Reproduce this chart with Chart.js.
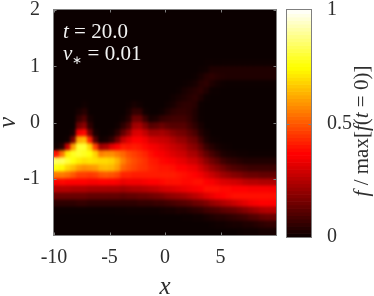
<!DOCTYPE html>
<html>
<head>
<meta charset="utf-8">
<title>f over x and v</title>
<script src="https://cdn.jsdelivr.net/npm/chart.js@4/dist/chart.umd.min.js"></script>
<style>
  body { margin: 0; background: #fff; }
  canvas { position: absolute; left: 0; top: 0; }
</style>
</head>
<body>
<canvas id="field" width="374" height="296"></canvas>
<canvas id="bar" width="374" height="296"></canvas>
<script>
// cell centres of the field, everything above the first row is background
const xCentres = [-9.75,-9.25,-8.75,-8.25,-7.75,-7.25,-6.75,-6.25,-5.75,-5.25,-4.75,-4.25,-3.75,-3.25,-2.75,-2.25,-1.75,-1.25,-0.75,-0.25,
  0.25,0.75,1.25,1.75,2.25,2.75,3.25,3.75,4.25,4.75,5.25,5.75,6.25,6.75,7.25,7.75,8.25,8.75,9.25,9.75];
const vCentres = [1.0625,0.9375,0.8125,0.6875,0.5625,0.4375,0.3125,0.1875,0.0625,-0.0625,-0.1875,-0.3125,-0.4375,
  -0.5625,-0.6875,-0.8125,-0.9375,-1.0625,-1.1875,-1.3125,-1.4375,-1.5625,-1.6875,-1.8125,-1.9375];
// f in percent, one line per x, top to bottom in v
const fByColumn = [
  [0,0,0,0,0,0,0,0,0,0,0,0,1,40,84,76,55,37,25,14,5,0.5,0,0,0],
  [0,0,0,0,0,0,0,0,0,0,0,0,4,54,84,74,55,38,25,14,5,0.5,0,0,0],
  [0,0,0,0,0,0,0,0,0,0,0,1,28,72,80,68,53,37,25,14,5,0.5,0,0,0],
  [0,0,0,0,0,0,0,0,0,0,2,16,60,78,76,65,50,36,24,14,5,0.5,0,0,0],
  [0,0,0,0,0,0,0,2,6,15,34,62,80,80,72,60,46,36,24,14,6,0.5,0,0,0],
  [0,0,0,0,0,0,1,4,10,19,38,64,80,78,70,58,46,36,24,14,6,0.5,0,0,0],
  [0,0,0,0,0,0,0,0,2,5,16,42,68,76,71,59,45,35,23,13,5,0.5,0,0,0],
  [0,0,0,0,0,0,0,0,0,0,2,11,46,68,70,60,46,35,23,13,5,0.5,0,0,0],
  [0,0,0,0,0,0,0,0,0,0,0,1,22,56,69,64,49,36,23,13,5,0.5,0,0,0],
  [0,0,0,0,0,0,0,0,0,0,0,2,24,58,69,65,50,36,23,13,5,0.5,0,0,0],
  [0,0,0,0,0,0,0,0,0,0,1,6,32,58,68,64,49,36,23,13,5,0.5,0,0,0],
  [0,0,0,0,0,0,0,0,0,1,5,15,36,55,63,60,47,35,23,13,5,0.7,0,0,0],
  [0,0,0,0,0,0,0,0,1,5,13,27,41,52,56,52,42,33,22,12,5,0.7,0,0,0],
  [0,0,0,0,0,0,0.5,2,4,10,20,32,40,48,51,49,42,34,23,13,5,1,0,0,0],
  [0,0,0,0,0,0,2,6,14,22,30,36,41,46,48,47,41,34,24,13,5,1,0,0,0],
  [0,0,0,0,0,0,1,6,14,23,31,36,40,44,46,45,41,34,24,14,6,1,0,0,0],
  [0,0,0,0,0,0,0,1,7,17,27,34,38,42,44,44,41,35,25,14,6,1,0,0,0],
  [0,0,0,0,0,0,0,0,2,11,22,30,35,39,41,42,41,36,26,15,6,1,0,0,0],
  [0,0,0,0,0,0,0,0,3,12,22,29,34,37,40,41,41,37,27,16,7,1,0,0,0],
  [0,0,0,0,0,0,0,1,6,14,23,28,32,35,38,40,41,38,29,17,7,1.5,0,0,0],
  [0,0,0,0,0,0,1,3,7,12,21,27,30,33,37,40,41,39,30,19,8,2,0,0,0],
  [0,0,0,0,0,1,2,5,8,11,18,24,28,31,35,39,41,39,31,20,9,2,0,0,0],
  [0,0,0,0,0.5,2,4,6,8,11,16,21,26,29,33,37,40,39,32,21,10,3,0,0,0],
  [0,0,0,0.5,2,3,5,6,8,11,15,20,24,28,32,36,39,38,33,22,11,3,0.5,0,0],
  [0,0,0,1,3,4,5,5,6,8,12,16,20,24,29,34,38,38,34,24,12,4,0.5,0,0],
  [0,0,0.5,2,4,5,4,3,3,5,9,14,18,23,28,33,37,39,35,26,14,5,1,0,0],
  [0,0.5,2,4,5,3,0.5,0.3,0.5,2,4,8,13,18,24,29,34,39,37,28,15,6,1,0,0],
  [0.3,1,4,5,3,0.5,0,0,0,0,1.5,3,7,13,19,25,31,37,39,31,17,8,2,0,0],
  [0.5,3,5,3,0.5,0,0,0,0,0,0,1,4,9,15,21,28,35,39,33,20,9,3,0.5,0],
  [0.3,3,4,1.5,0.3,0,0,0,0,0,0,0.5,2,6,12,18,25,33,39,35,22,10,4,1,0],
  [0.5,3,3.5,0.7,0,0,0,0,0,0,0,0,1,3,8,15,22,31,38,37,24,12,4,1,0],
  [0.5,3,3,0.3,0,0,0,0,0,0,0,0,0.5,2,6,12,20,30,38,38,26,13,5,1.5,0],
  [0.5,3,3,0.3,0,0,0,0,0,0,0,0,0,1.5,5,10,18,29,37,39,28,14,6,2,0],
  [0.5,3,3,0.3,0,0,0,0,0,0,0,0,0,1,4,9,17,28,37,39,30,16,7,2,0.5],
  [0.5,3,3,0.3,0,0,0,0,0,0,0,0,0,1,3,8,15,26,36,39,32,18,8,3,1],
  [0.5,3,3,0.3,0,0,0,0,0,0,0,0,0,0.5,3,7,14,25,35,39,34,20,10,3,1],
  [0.5,3,3,0.3,0,0,0,0,0,0,0,0,0,0.5,3,7,14,25,35,39,35,22,11,4,1],
  [0.5,3,3,0.3,0,0,0,0,0,0,0,0,0,0.5,3,7,13,24,35,39,36,24,13,5,2],
  [0.5,3,3,0.3,0,0,0,0,0,0,0,0,0,0.5,3,7,13,24,35,39,37,25,14,6,2],
  [0.5,3,3,0.3,0,0,0,0,0,0,0,0,0,0.5,3,7,13,24,35,39,37,25,14,6,2]
];
const xTicks = [-10,-5,0,5];
const vTicks = [2,1,0,-1];
const barTicks = [0,0.5,1];

const serif = '"Liberation Serif", serif';
const inkColor = '#2e2e2e';
const boxColor = '#7f7f7f';

Chart.defaults.animation = false;
Chart.defaults.responsive = false;
Chart.defaults.font.family = serif;
Chart.defaults.color = inkColor;

// matlab hot
function hot(f) {
  let r = Math.min(1, (f + 0.0156) / 0.375);
  let g = Math.max(0, Math.min(1, (f - 0.37) / 0.375));
  let b = Math.max(0, Math.min(1, (f - 0.75) / 0.25));
  return `rgb(${Math.round(r*255)},${Math.round(g*255)},${Math.round(b*255)})`;
}

// text with italic and roman pieces, [text, italic, size, dy]
function drawRuns(ctx, runs, x, y) {
  let cx = x;
  runs.forEach(r => {
    ctx.font = `${r[1] ? 'italic ' : ''}${r[2]}px ${serif}`;
    ctx.fillText(r[0], cx, y + (r[3] || 0));
    cx += ctx.measureText(r[0]).width;
  });
}
function runsWidth(ctx, runs) {
  let w = 0;
  runs.forEach(r => {
    ctx.font = `${r[1] ? 'italic ' : ''}${r[2]}px ${serif}`;
    w += ctx.measureText(r[0]).width;
  });
  return w;
}

// axes box with the small inward ticks
function drawBox(chart, xs, ys) {
  const ctx = chart.ctx, a = chart.chartArea;
  ctx.save();
  ctx.strokeStyle = boxColor;
  ctx.lineWidth = 1;
  ctx.strokeRect(a.left - 0.5, a.top - 0.5, a.width + 1, a.height + 1);
  ctx.beginPath();
  xs.forEach(t => {
    const p = Math.round(chart.scales.x.getPixelForValue(t)) + 0.5;
    ctx.moveTo(p, a.top); ctx.lineTo(p, a.top + 2.5);
    ctx.moveTo(p, a.bottom); ctx.lineTo(p, a.bottom - 2.5);
  });
  ys.forEach(t => {
    const p = Math.round(chart.scales.y.getPixelForValue(t)) + 0.5;
    ctx.moveTo(a.left, p); ctx.lineTo(a.left + 2.5, p);
    ctx.moveTo(a.right, p); ctx.lineTo(a.right - 2.5, p);
  });
  ctx.stroke();
  ctx.restore();
}

const fieldPoints = [];
xCentres.forEach((x, i) => {
  vCentres.forEach((v, j) => {
    const f = fByColumn[i][j];
    if (f > 0) fieldPoints.push({ x: x, y: [v - 0.0625, v + 0.0625], f: f / 100 });
  });
});

const fieldPlugin = {
  id: 'fieldLook',
  beforeDatasetsDraw(chart) {
    const ctx = chart.ctx, a = chart.chartArea;
    ctx.fillStyle = hot(0);
    ctx.fillRect(a.left, a.top, a.width, a.height);
  },
  afterDatasetsDraw(chart) {
    // soften the cells, the original is a fine contour plot
    const ctx = chart.ctx, a = chart.chartArea;
    ctx.save();
    ctx.beginPath();
    ctx.rect(a.left, a.top, a.width, a.height);
    ctx.clip();
    ctx.filter = 'blur(1.6px)';
    ctx.drawImage(ctx.canvas, a.left, a.top, a.width, a.height, a.left, a.top, a.width, a.height);
    ctx.restore();
  },
  afterDraw(chart) {
    drawBox(chart, xTicks, vTicks);
    const ctx = chart.ctx;
    ctx.save();
    ctx.fillStyle = '#f2f2f2';
    ctx.textAlign = 'left';
    ctx.textBaseline = 'alphabetic';
    drawRuns(ctx, [['t', true, 21], [' = 20.0', false, 21]], 63, 38);
    drawRuns(ctx, [['ν', true, 21], ['∗', false, 12, 4], [' = 0.01', false, 21]], 63, 60);
    ctx.restore();
  }
};

new Chart(document.getElementById('field'), {
  type: 'bar',
  data: {
    datasets: [{
      data: fieldPoints,
      backgroundColor: c => hot(c.raw.f),
      barPercentage: 1,
      categoryPercentage: 1,
      grouped: false
    }]
  },
  options: {
    layout: { padding: { left: 0, top: 10, right: 98, bottom: 0 } },
    plugins: { legend: { display: false }, tooltip: { enabled: false } },
    scales: {
      x: {
        type: 'linear', min: -10, max: 10, offset: false,
        grid: { display: false }, border: { display: false },
        ticks: {
          stepSize: 5, padding: 3, maxRotation: 0, font: { size: 20 }, color: inkColor,
          callback: v => xTicks.includes(v) ? String(v) : ''
        },
        title: { display: true, text: 'x', font: { size: 25, style: 'italic', lineHeight: 0.7 }, color: inkColor, padding: 0 },
        afterFit(s) { s.height = 61; s.paddingLeft = 0; s.paddingRight = 0; }
      },
      y: {
        min: -2, max: 2,
        grid: { display: false }, border: { display: false },
        ticks: {
          stepSize: 1, padding: 6, font: { size: 20 }, color: inkColor,
          callback: v => vTicks.includes(v) ? String(v) : ''
        },
        title: { display: true, text: 'v', font: { size: 25, style: 'italic', lineHeight: 0.7 }, color: inkColor, padding: 0 },
        afterFit(s) { s.width = 54; s.paddingTop = 0; s.paddingBottom = 0; }
      }
    }
  },
  plugins: [fieldPlugin]
});

// colour bar, 64 steps like the colormap
const barLabels = [''];
const barPoints = [];
for (let i = 0; i < 64; i++) barPoints.push({ x: '', y: [i / 64, (i + 1) / 64], f: (i + 0.5) / 64 });

const barPlugin = {
  id: 'barLook',
  afterDraw(chart) {
    drawBox(chart, [], [0.5]);
    const ctx = chart.ctx;
    ctx.save();
    ctx.fillStyle = inkColor;
    ctx.textAlign = 'left';
    ctx.textBaseline = 'alphabetic';
    const runs = [['f', true, 21], [' / max[', false, 21], ['f', true, 21], ['(', false, 21], ['t', true, 21], [' = 0)]', false, 21]];
    ctx.translate(368, 131);
    ctx.rotate(-Math.PI / 2);
    drawRuns(ctx, runs, -runsWidth(ctx, runs) / 2, 0);
    ctx.restore();
  }
};

new Chart(document.getElementById('bar'), {
  type: 'bar',
  data: {
    labels: barLabels,
    datasets: [{
      data: barPoints,
      backgroundColor: c => hot(c.raw.f),
      barPercentage: 1,
      categoryPercentage: 1,
      grouped: false
    }]
  },
  options: {
    layout: { padding: { left: 287, top: 10, right: 0, bottom: 59 } },
    plugins: { legend: { display: false }, tooltip: { enabled: false } },
    scales: {
      x: { display: false },
      y: {
        position: 'right', min: 0, max: 1,
        grid: { display: false }, border: { display: false },
        ticks: {
          stepSize: 0.5, padding: 8, font: { size: 20 }, color: inkColor,
          callback: v => barTicks.includes(v) ? String(v) : ''
        },
        afterFit(s) { s.width = 63; s.paddingTop = 0; s.paddingBottom = 0; }
      }
    }
  },
  plugins: [barPlugin]
});
</script>
</body>
</html>
